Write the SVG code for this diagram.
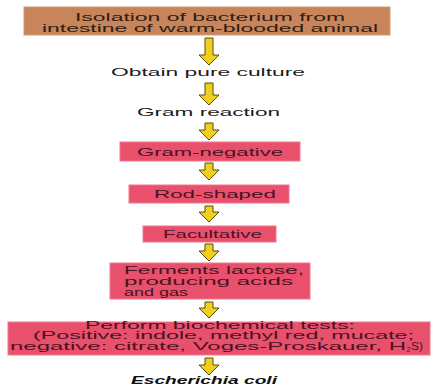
<svg xmlns="http://www.w3.org/2000/svg" width="431" height="387" viewBox="0 0 431 387">
<style>
  .bg{fill:#ffffff}
  .top{fill:#c8845a;stroke:#d49a74;stroke-width:1}
  .pink{fill:#e8506c;stroke:#f07890;stroke-width:1}
  .t{font-family:"Liberation Sans",Arial,Helvetica,sans-serif;font-size:10.5px}
  .tt{fill:#2e1e14}
  .pt{fill:#4a1224}
  .bt{fill:#1a1a1a}
  .em{font-weight:bold;font-style:italic;fill:#111111;font-size:11px}
  .arr{fill:#f2cf1d;stroke:#5a4a10;stroke-width:1;stroke-linejoin:miter}
</style>
<rect class="bg" x="0" y="0" width="431" height="387"/>

<g id="connectors">
  <path class="arr" d="M205,38 H213 V55 H219 L209,65 L199,55 H205 Z"/>
  <path class="arr" d="M205,83 H213 V95 H219 L209,105 L199,95 H205 Z"/>
  <path class="arr" d="M205,123 H213 V130 H219 L209,140 L199,130 H205 Z"/>
  <path class="arr" d="M205,163 H213 V170 H219 L209,180 L199,170 H205 Z"/>
  <path class="arr" d="M205,206 H213 V212 H219 L209,222 L199,212 H205 Z"/>
  <path class="arr" d="M205,244 H213 V251 H219 L209,261 L199,251 H205 Z"/>
  <path class="arr" d="M205,302 H213 V308 H219 L209,318 L199,308 H205 Z"/>
  <path class="arr" d="M205,358 H213 V365 H219 L209,375 L199,365 H205 Z"/>
</g>

<g id="isolation">
  <rect class="top" x="24" y="7" width="366" height="28"/>
  <text class="t tt" x="75" y="20.5" textLength="270" lengthAdjust="spacingAndGlyphs">Isolation of bacterium from</text>
  <text class="t tt" x="42" y="31.5" textLength="336" lengthAdjust="spacingAndGlyphs">intestine of warm-blooded animal</text>
</g>

<g id="pure-culture">
  <text class="t bt" x="111" y="75.5" textLength="194" lengthAdjust="spacingAndGlyphs">Obtain pure culture</text>
</g>

<g id="gram-reaction">
  <text class="t bt" x="137" y="115.5" textLength="143" lengthAdjust="spacingAndGlyphs">Gram reaction</text>
</g>

<g id="gram-negative">
  <rect class="pink" x="120" y="142" width="180" height="19"/>
  <text class="t pt" x="137" y="155.5" textLength="146" lengthAdjust="spacingAndGlyphs">Gram-negative</text>
</g>

<g id="rod-shaped">
  <rect class="pink" x="129" y="185" width="160" height="18"/>
  <text class="t pt" x="154" y="197.5" textLength="122" lengthAdjust="spacingAndGlyphs">Rod-shaped</text>
</g>

<g id="facultative">
  <rect class="pink" x="143" y="226" width="133" height="16"/>
  <text class="t pt" x="163" y="237.5" textLength="99" lengthAdjust="spacingAndGlyphs">Facultative</text>
</g>

<g id="ferments">
  <rect class="pink" x="110" y="263" width="200" height="36"/>
  <text class="t pt" x="124" y="274" textLength="180" lengthAdjust="spacingAndGlyphs">Ferments lactose,</text>
  <text class="t pt" x="124" y="284.5" textLength="169" lengthAdjust="spacingAndGlyphs">producing acids</text>
  <text class="t pt" x="124" y="295.5" textLength="64" lengthAdjust="spacingAndGlyphs">and gas</text>
</g>

<g id="biochemical-tests">
  <rect class="pink" x="8" y="322" width="422" height="33"/>
  <text class="t pt" x="85" y="328.5" textLength="270" lengthAdjust="spacingAndGlyphs">Perform biochemical tests:</text>
  <text class="t pt" x="33" y="339" textLength="381" lengthAdjust="spacingAndGlyphs">(Positive: indole, methyl red, mucate;</text>
  <text class="t pt" x="10" y="349.5" textLength="396" lengthAdjust="spacingAndGlyphs">negative: citrate, Voges-Proskauer, H</text>
  <text class="t pt" x="406.5" y="352" style="font-size:7px">2</text>
  <text class="t pt" x="411" y="349.5" textLength="12" lengthAdjust="spacingAndGlyphs">S)</text>
</g>

<g id="e-coli">
  <text class="t em" x="131" y="384" textLength="146" lengthAdjust="spacingAndGlyphs">Escherichia coli</text>
</g>
</svg>
